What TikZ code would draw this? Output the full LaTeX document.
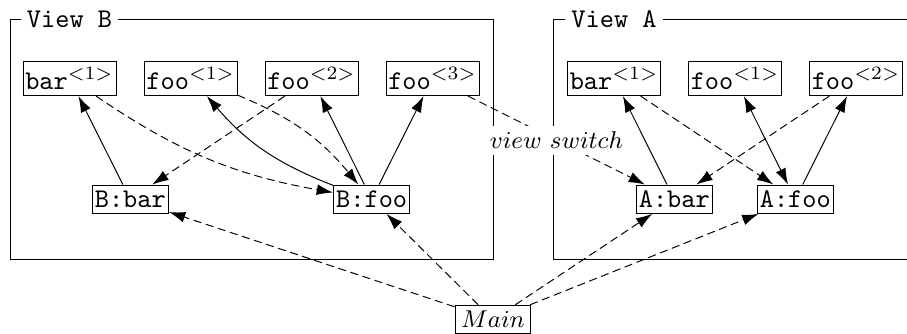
\documentclass[tikz,border=0pt]{standalone}
\usetikzlibrary{arrows.meta}
\begin{document}
\begin{tikzpicture}[x=0.37pt,y=0.37pt,line width=0.36pt,
  upbox/.style={draw, inner sep=0pt, minimum width=34.4pt, minimum height=12.8pt, font=\ttfamily},
  lowbox/.style={draw, inner sep=0pt, minimum width=28.3pt, minimum height=10.5pt, font=\ttfamily},
  mainbox/.style={draw, inner sep=0pt, minimum width=28.1pt, minimum height=10.6pt, font=\small},
  framelabel/.style={fill=white, inner sep=2.3pt, font=\ttfamily},
  switchlabel/.style={fill=white, inner xsep=1.5pt, inner ysep=2.2pt, font=\small},
  arr/.style={-{Latex[length=6pt,width=4pt]}},
  biarr/.style={{Latex[length=6pt,width=4pt]}-{Latex[length=6pt,width=4pt]}},
  dsh/.style={arr, dash pattern=on 3pt off 1.7pt}]
\useasboundingbox (0,0) rectangle (907,-333);
% frames
\draw (10,-19) rectangle (493,-259);
\draw (907,-19) -- (553,-19) -- (553,-259) -- (907,-259);
\node[framelabel] (vb) at (69.5,-19) {View B};
\node[framelabel] (va) at (614,-19) {View A};
% View B nodes
\node[upbox] (Bbar1) at (69.5,-78.3) {bar$^{<1>}$};
\node[upbox] (Bfoo1) at (190.7,-78.3) {foo$^{<1>}$};
\node[upbox] (Bfoo2) at (311.5,-78.3) {foo$^{<2>}$};
\node[upbox] (Bfoo3) at (432.5,-78.3) {foo$^{<3>}$};
\node[lowbox] (BBar) at (130.3,-199.2) {B:bar};
\node[lowbox] (BFoo) at (371.7,-199.2) {B:foo};
% View A nodes
\node[upbox] (Abar1) at (614,-78.3) {bar$^{<1>}$};
\node[upbox] (Afoo1) at (735,-78.3) {foo$^{<1>}$};
\node[upbox] (Afoo2) at (856,-78.3) {foo$^{<2>}$};
\node[lowbox] (ABar) at (674.3,-199.2) {A:bar};
\node[lowbox] (AFoo) at (795.3,-199.2) {A:foo};
% Main
\node[mainbox] (main) at (493,-319.5) {$Main$};
% View B edges
\draw[arr] (BBar) -- (Bbar1);
\draw[dsh] (Bbar1) to[bend right=12] (BFoo);
\draw[dsh] (Bfoo2) -- (BBar);
\draw[arr] (BFoo) to[bend left=14] (Bfoo1);
\draw[dsh] (Bfoo1) to[bend left=14] (BFoo);
\draw[arr] (BFoo) -- (Bfoo2);
\draw[arr] (BFoo) -- (Bfoo3);
% view switch
\draw[dsh] (Bfoo3) -- node[switchlabel] (vs) {$view\ switch$} (ABar);
% View A edges
\draw[arr] (ABar) -- (Abar1);
\draw[dsh] (Abar1) -- (AFoo);
\draw[dsh] (Afoo2) -- (ABar);
\draw[biarr] (Afoo1) -- (AFoo);
\draw[arr] (AFoo) -- (Afoo2);
% Main edges
\draw[dsh] (main) -- (BBar);
\draw[dsh] (main) -- (BFoo);
\draw[dsh] (main) -- (ABar);
\draw[dsh] (main) -- (AFoo);
\end{tikzpicture}
\end{document}
